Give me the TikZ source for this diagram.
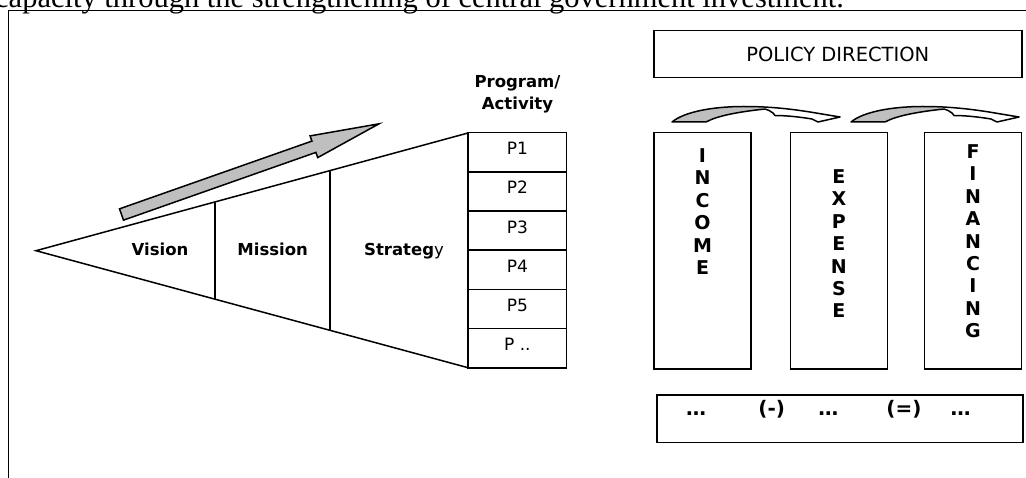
\documentclass[tikz,border=0pt]{standalone}
\usepackage{fontspec}
\setmainfont{DejaVu Sans}
\newfontfamily\captionserif{Liberation Serif}
\usepackage{tikz}
\usetikzlibrary{positioning,calc}
\tikzset{
	labelnode/.style={font=\fontsize{16.5}{19}\selectfont\bfseries, inner sep=0pt, anchor=base},
	cellnode/.style={rectangle, draw=black, line width=1.6pt, minimum width=98.3pt, minimum height=39.2pt, inner sep=0pt, text depth=8pt, font=\fontsize{17}{19}\selectfont},
	columnnode/.style={rectangle, draw=black, line width=1.6pt, minimum width=97pt, minimum height=236.3pt, inner sep=0pt},
	lettersnode/.style={font=\fontsize{19}{22.4}\selectfont\bfseries, align=center, inner sep=0pt, anchor=north},
	signnode/.style={font=\fontsize{20}{22}\selectfont\bfseries, inner sep=0pt, anchor=base},
	curvedarrow/.pic={
		\fill[gray!50] (0,0) .. controls (12,-10) and (40,-15.5) .. (72,-15.5) .. controls (82,-15.5) and (89,-14) .. (93,-13) .. controls (65,-10) and (45,-6) .. (34,0) -- cycle;
		\draw[line width=1.5pt, line join=round] (0,0) .. controls (12,-10) and (40,-15.5) .. (72,-15.5) .. controls (100,-15.5) and (122,-12.5) .. (138,-10) -- (168,-5) -- (146,0) -- (140,-3) .. controls (125,-5.5) and (112,-6.5) .. (103,-6.5) -- (101,-9) .. controls (98,-11) and (96,-12.5) .. (93,-13) .. controls (65,-10) and (45,-6) .. (34,0) -- cycle;
	}
}

\begin{document}
\begin{tikzpicture}[x=1pt, y=-1pt]
	\useasboundingbox (0,0) rectangle (1026,478);
	\draw (-5,7.5) node[font=\captionserif\fontsize{30.5}{34}\selectfont, anchor=base west, inner sep=0pt] (caption) {capacity through the strengthening of central government investment.};
	\draw[line width=1.4pt] (1040,10.7) -- (8.3,10.7) -- (8.3,490);
	
	\coordinate (apex) at (36,250.7);
	\coordinate (topend) at (468,133);
	\coordinate (botend) at (468,367.7);
	\draw[line width=1.5pt] (topend) -- (apex) -- (botend);
	\draw[line width=1.5pt] ($(apex)!0.4144!(topend)$) -- ($(apex)!0.4144!(botend)$);
	\draw[line width=1.5pt] ($(apex)!0.6806!(topend)$) -- ($(apex)!0.6806!(botend)$);
	
	\begin{scope}[shift={(121.5,214.5)}, rotate=19.4]
		\draw[line width=1.5pt, fill=gray!50] (0,-6) -- (204,-6) -- (204,-11.5) -- (273,0) -- (204,11.5) -- (204,6) -- (0,6) -- cycle;
	\end{scope}
	
	\draw (160,256) node[labelnode] (vision) {Vision};
	\draw (272.7,256) node[labelnode] (mission) {Mission};
	\draw (404,256) node[labelnode] (strategy) {Strateg\mdseries y};
	
	\draw (517.5,75.5) node[labelnode, align=center, anchor=north, font=\fontsize{16.5}{22}\selectfont\bfseries] (progact) {Program/\\Activity};
	\draw (517.35,152.3) node[cellnode] (p1) {P1};
	\draw (517.35,191.5) node[cellnode] (p2) {P2};
	\draw (517.35,230.7) node[cellnode] (p3) {P3};
	\draw (517.35,269.9) node[cellnode] (p4) {P4};
	\draw (517.35,309.1) node[cellnode] (p5) {P5};
	\draw (517.35,348.3) node[cellnode] (p6) {P ..};
	
	\draw (837.85,54.2) node[draw, line width=1.6pt, minimum width=367.7pt, minimum height=47pt, inner sep=0pt, font=\fontsize{19.5}{22}\selectfont] (policy) {POLICY DIRECTION};
	
	\path (672,122) pic {curvedarrow};
	\path (851,122) pic {curvedarrow};
	
	\draw (702.5,250.85) node[columnnode] (income) {};
	\draw (838.85,250.85) node[columnnode] (expense) {};
	\draw (973,250.85) node[columnnode] (financing) {};
	\draw (702.5,148.5) node[lettersnode] (incomeword) {I\\N\\C\\O\\M\\E};
	\draw (838.85,169.5) node[lettersnode] (expenseword) {E\\X\\P\\E\\N\\S\\E};
	\draw (973,144.5) node[lettersnode] (financingword) {F\\I\\N\\A\\N\\C\\I\\N\\G};
	
	\draw (839.85,418.65) node[draw, line width=1.6pt, minimum width=366.3pt, minimum height=47.3pt, inner sep=0pt] (balance) {};
	\draw (696,416) node[signnode] (income-sum) {…};
	\draw (771.7,416) node[signnode] (minus) {(-)};
	\draw (828.3,416) node[signnode] (expense-sum) {…};
	\draw (904,416) node[signnode] (equals) {(=)};
	\draw (960.7,416) node[signnode] (financing-sum) {…};
\end{tikzpicture}
\end{document}
